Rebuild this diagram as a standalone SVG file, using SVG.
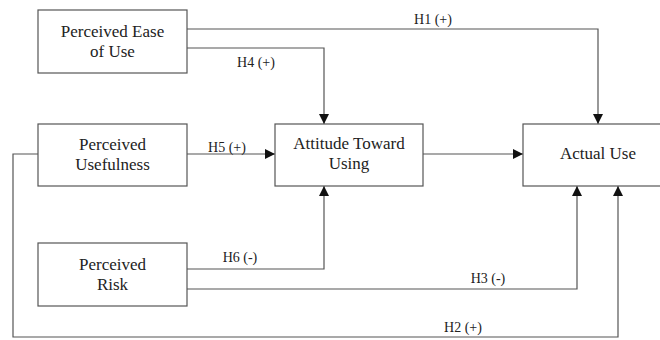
<svg xmlns="http://www.w3.org/2000/svg" width="660" height="340" viewBox="0 0 660 340">
<style>
.box{fill:#fff;stroke:#555;stroke-width:1.2}
text{font-family:'Liberation Serif','DejaVu Serif',serif;fill:#222;text-anchor:middle}
.t{font-size:17px}
.l{font-size:14px}
.c{fill:none;stroke:#555;stroke-width:1.2}
</style>
<defs>
<marker id="a" viewBox="0 0 10 10" refX="10" refY="5" markerWidth="10" markerHeight="10" markerUnits="userSpaceOnUse" orient="auto">
<path d="M0,0 L10,5 L0,10 Z" fill="#111"/>
</marker>
</defs>
<rect width="660" height="340" fill="#fff"/>
<g id="connectors">
<path class="c" d="M187,29 H598 V124" marker-end="url(#a)"/>
<path class="c" d="M187,48 H324 V124" marker-end="url(#a)"/>
<path class="c" d="M187,154 H275" marker-end="url(#a)"/>
<path class="c" d="M423,154 H523" marker-end="url(#a)"/>
<path class="c" d="M187,269 H324 V186" marker-end="url(#a)"/>
<path class="c" d="M187,289 H577 V186" marker-end="url(#a)"/>
<path class="c" d="M38,154 H13 V337 H618 V186" marker-end="url(#a)"/>
<text class="l" x="433" y="24" font-family="Liberation Serif, serif">H1 (+)</text>
<text class="l" x="256" y="67" font-family="Liberation Serif, serif">H4 (+)</text>
<text class="l" x="227" y="152" font-family="Liberation Serif, serif">H5 (+)</text>
<text class="l" x="240" y="262" font-family="Liberation Serif, serif">H6 (-)</text>
<text class="l" x="488" y="283" font-family="Liberation Serif, serif">H3 (-)</text>
<text class="l" x="463" y="332" font-family="Liberation Serif, serif">H2 (+)</text>
</g>
<g id="peu">
<rect class="box" x="38" y="10" width="149" height="63"/>
<text class="t" x="112.5" y="37">Perceived Ease</text>
<text class="t" x="112.5" y="57">of Use</text>
</g>
<g id="pu">
<rect class="box" x="38" y="124" width="149" height="62"/>
<text class="t" x="112.5" y="150">Perceived</text>
<text class="t" x="112.5" y="170">Usefulness</text>
</g>
<g id="pr">
<rect class="box" x="38" y="243" width="149" height="63"/>
<text class="t" x="112.5" y="270">Perceived</text>
<text class="t" x="112.5" y="290">Risk</text>
</g>
<g id="atu">
<rect class="box" x="275" y="124" width="148" height="62"/>
<text class="t" x="349" y="149">Attitude Toward</text>
<text class="t" x="349" y="169">Using</text>
</g>
<g id="au">
<rect class="box" x="523" y="124" width="145" height="62"/>
<text class="t" x="598" y="159">Actual Use</text>
</g>
</svg>
